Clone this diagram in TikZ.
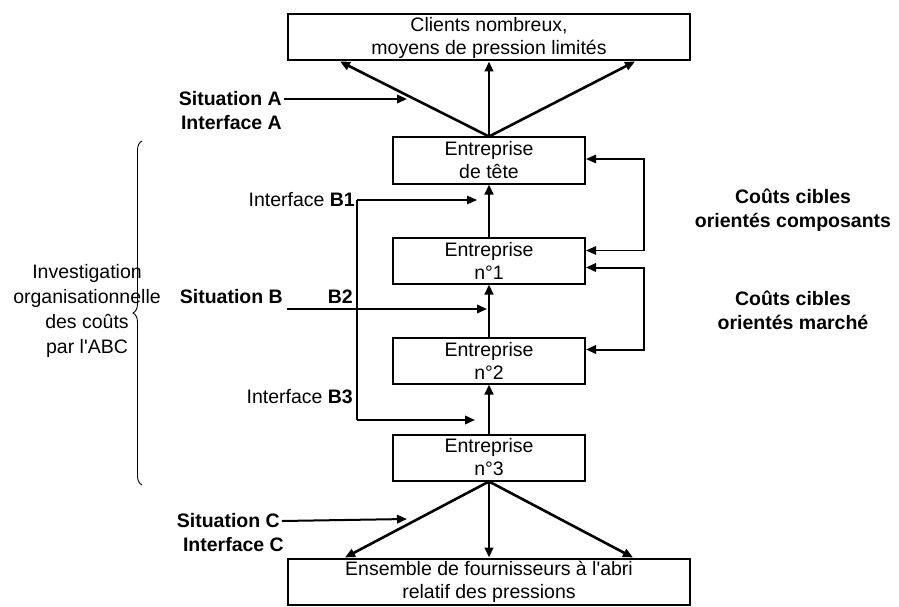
\documentclass[tikz,border=0pt]{standalone}
\usepackage{fontspec}
\setmainfont{Liberation Sans}
\usetikzlibrary{arrows.meta,positioning,decorations.pathreplacing}

\begin{document}
\begin{tikzpicture}[x=1pt,y=-1pt,
                  every node/.style={font=\fontsize{19.5}{23}\selectfont,align=center},
                  box/.style={rectangle,draw,line width=2pt,minimum width=192pt,minimum height=46pt,inner sep=0pt},
                  wide/.style={box,minimum width=402pt},
                  lbl/.style={font=\fontsize{19.5}{24}\selectfont\bfseries,inner sep=2pt},
                  fat/.style={line width=2.6pt,->},
                  mid/.style={line width=2pt,->},
                  fine/.style={line width=1.2pt},
                  >={Triangle[length=10pt,width=8.5pt]},
                  node distance=52pt,
            ]
            \useasboundingbox (0,0) rectangle (899,607);

            \node[wide] (clients) at (489,37.5) {Clients nombreux,\\moyens de pression limités};
            \node[box] (tete) [below=75pt of clients] {Entreprise\\de tête};
            \node[box] (n1) [below=of tete] {Entreprise\\n°1};
            \node[box] (n2) [below=of n1] {Entreprise\\n°2};
            \node[box] (n3) [below=49pt of n2] {Entreprise\\n°3};
            \node[wide] (fourn) [below=76pt of n3] {Ensemble de fournisseurs à l\textquotesingle abri\\relatif des pressions};

            \draw[fat] (tete.north) -- ([xshift=53pt]clients.south west);
            \draw[fat] (tete.north) -- (clients.south);
            \draw[fat] (tete.north) -- ([xshift=-56pt]clients.south east);
            \draw[fat] (n1.north) -- (tete.south);
            \draw[fat] (n2.north) -- (n1.south);
            \draw[fat] (n3.north) -- (n2.south);
            \draw[fat] (n3.south) -- ([xshift=58pt]fourn.north west);
            \draw[fat] (n3.south) -- (fourn.north);
            \draw[fat] (n3.south) -- ([xshift=-58pt]fourn.north east);

            \node[lbl,anchor=east] (sitA) at (284,99) {Situation A};
            \node[lbl,anchor=east] (intA) at (284,123) {Interface A};
            \coordinate (sitAend) at (407,99);
            \draw[mid] (sitA.east) -- (sitAend);

            \node[lbl,anchor=east] (sitC) at (282,521) {Situation C};
            \node[lbl,anchor=east] (intC) at (286,545) {Interface C};
            \coordinate (sitCend) at (407,519);
            \draw[mid] (sitC.east) -- (sitCend);

            \node[inner sep=2pt,anchor=east] (b1) at (357,200) {Interface \textbf{B1}};
            \coordinate (b1end) at (477,200);
            \draw[fine,->] (b1.east) -- (b1end);
            \coordinate (b3start) at (357,420);
            \coordinate (b3end) at (475,420);
            \draw[fine] (b1.east) -- (b3start);
            \node[inner sep=2pt,anchor=east] (b3) at (355,397) {Interface \textbf{B3}};
            \draw[mid] (b3start) -- (b3end);

            \node[lbl,anchor=east] (sitB) at (285,297) {Situation B};
            \node[lbl,anchor=east] (b2) at (355,297) {B2};
            \coordinate (b2start) at (287,309);
            \coordinate (b2end) at (487,309);
            \draw[mid] (b2start) -- (b2end);

            \draw[fine,<->] ([yshift=1.5pt]tete.east) -- ++(58,0) |- ([yshift=10pt]n1.east);
            \draw[mid,<->] ([yshift=-7pt]n1.east) -- ++(58,0) |- ([yshift=11pt]n2.east);

            \node[lbl] (cc1) at (793,210) {Coûts cibles\\orientés composants};
            \node[lbl] (cc2) at (793,310) {Coûts cibles\\orientés marché};

            \draw[line width=0.9pt,decorate,decoration={brace,amplitude=9pt}] (142,485) -- (142,141);
            \node[font=\fontsize{19.5}{25}\selectfont] (abc) at (87,311) {Investigation\\organisationnelle\\des coûts\\par l\textquotesingle ABC};
      \end{tikzpicture}
\end{document}
